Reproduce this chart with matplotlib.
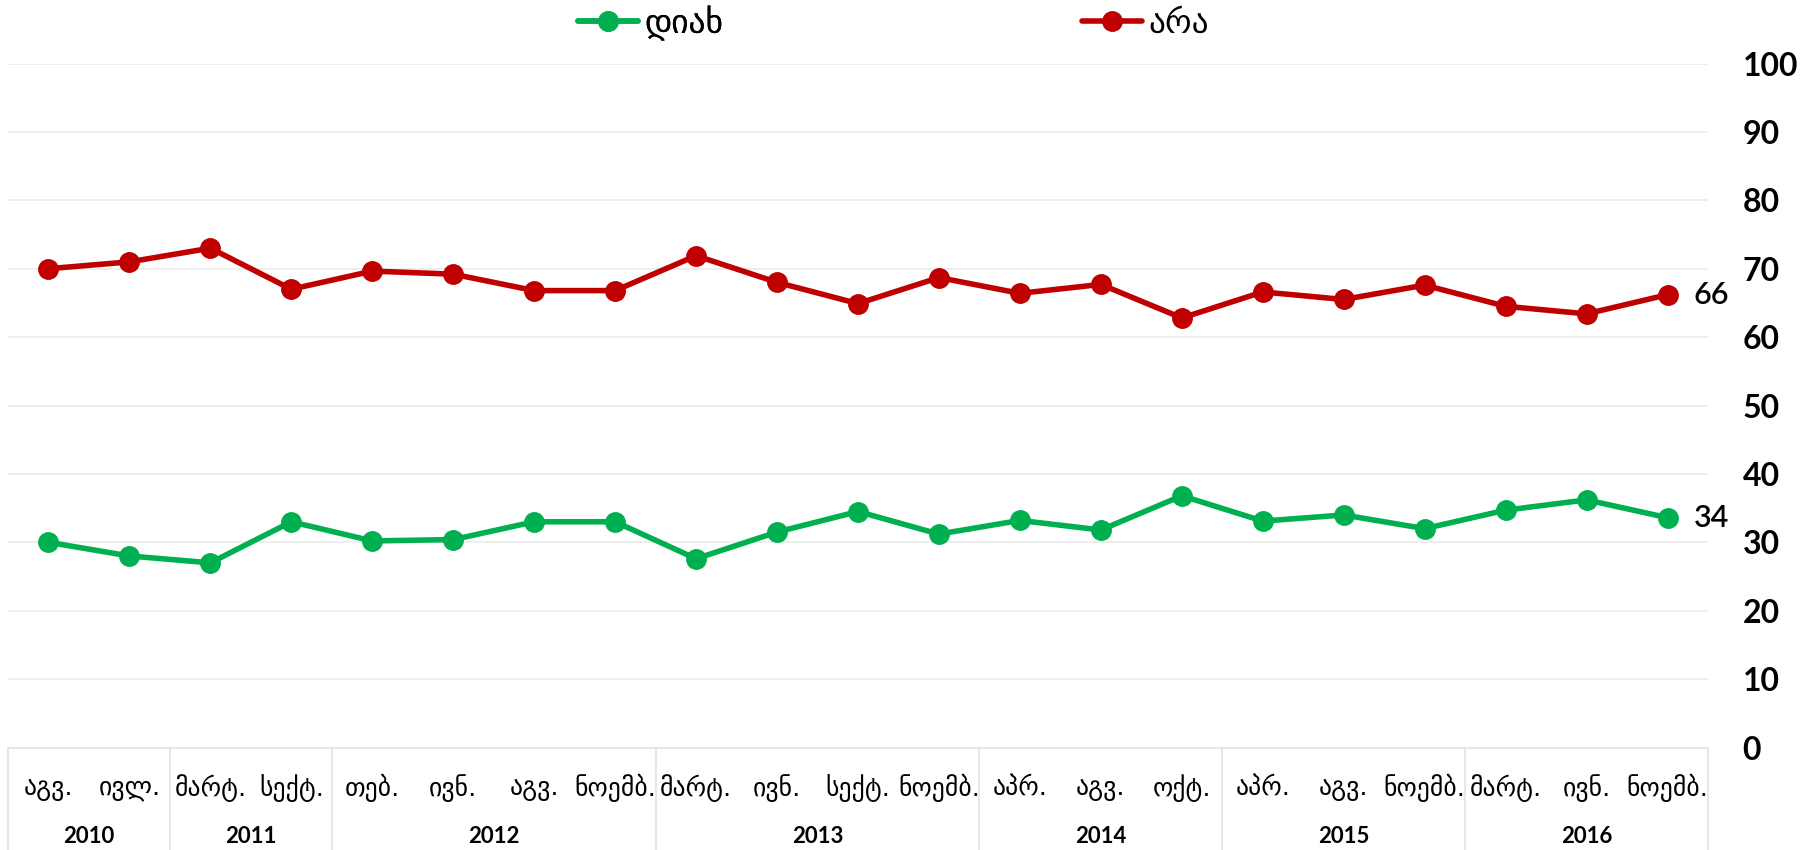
import matplotlib
matplotlib.use("Agg")
import matplotlib.pyplot as plt
from matplotlib.lines import Line2D
import matplotlib.transforms as mtransforms

months = ["აგვ.", "ივლ.", "მარტ.", "სექტ.", "თებ.", "ივნ.", "აგვ.", "ნოემბ.",
          "მარტ.", "ივნ.", "სექტ.", "ნოემბ.", "აპრ.", "აგვ.", "ოქტ.",
          "აპრ.", "აგვ.", "ნოემბ.", "მარტ.", "ივნ.", "ნოემბ."]
years = ["2010", "2011", "2012", "2013", "2014", "2015", "2016"]
year_counts = [2, 2, 4, 4, 3, 3, 3]

yes_vals = [30, 28, 27, 33, 30.2, 30.4, 33, 33, 27.6, 31.5, 34.5, 31.2,
            33.2, 31.8, 36.8, 33.1, 34, 32, 34.7, 36.2, 33.6]
no_vals = [70, 71, 73, 67, 69.65, 69.2, 66.8, 66.8, 71.9, 68, 64.9, 68.7,
           66.4, 67.7, 62.8, 66.6, 65.5, 67.6, 64.5, 63.4, 66.2]

green = "#00B050"
red = "#C00000"
geo_font = ["DejaVu Sans"]
num_font = ["Lato", "DejaVu Sans"]

fig = plt.figure(figsize=(18.17, 8.5), dpi=100)
ax = fig.add_axes([8 / 1817, 102.5 / 850, 1700 / 1817, 684 / 850])

x = list(range(len(months)))
l1, = ax.plot(x, yes_vals, color=green, lw=4, marker="o", ms=14, solid_capstyle="round")
l2, = ax.plot(x, no_vals, color=red, lw=4, marker="o", ms=14, solid_capstyle="round")

ax.set_xlim(-0.5, len(months) - 0.5)
ax.set_ylim(0, 100)
ax.set_yticks(range(0, 101, 10))
ax.yaxis.tick_right()
ax.tick_params(axis="y", length=0, pad=25)
for lab in ax.get_yticklabels():
    lab.set_fontfamily(num_font)
    lab.set_fontweight("bold")
    lab.set_fontsize(23)
ax.set_xticks([])
ax.grid(axis="y", color="#EBEBEB", lw=1.2)
ax.set_axisbelow(True)
for s in ax.spines.values():
    s.set_visible(False)

# end labels
ax.annotate(f"{no_vals[-1]:.0f}", (x[-1], no_vals[-1]), xytext=(19, 0), textcoords="offset points",
            va="center", ha="left", fontsize=22, family=num_font, fontweight="semibold")
ax.annotate(f"{yes_vals[-1]:.0f}", (x[-1], yes_vals[-1]), xytext=(19, 0), textcoords="offset points",
            va="center", ha="left", fontsize=22, family=num_font, fontweight="semibold")

# category table under the axis
trans = mtransforms.blended_transform_factory(ax.transData, ax.transAxes)
for i, m in enumerate(months):
    ax.text(i, -0.0592, m, transform=trans, ha="center", va="center", fontsize=18.5, family=geo_font)

start = 0
bounds = [-0.5]
for yr, n in zip(years, year_counts):
    ax.text(start + (n - 1) / 2, -0.1308, yr, transform=trans, ha="center", va="center",
            fontsize=16, fontweight="bold", family=num_font)
    start += n
    bounds.append(start - 0.5)
for b in bounds:
    ax.add_line(Line2D([b, b], [0, -0.16], transform=trans, color="#E3E3E3", lw=1.2, clip_on=False))
ax.add_line(Line2D([-0.5, len(months) - 0.5], [0, 0], transform=trans, color="#E3E3E3", lw=1.2, clip_on=False))

# legend
leg1 = fig.legend(handles=[l1], labels=["დიახ"], loc="center left", bbox_to_anchor=(578 / 1817, 1 - 23 / 850),
                  frameon=False, handlelength=1.8, handletextpad=0.2, borderpad=0,
                  borderaxespad=0, prop={"family": geo_font, "size": 24})
leg2 = fig.legend(handles=[l2], labels=["არა"], loc="center left", bbox_to_anchor=(1082 / 1817, 1 - 23 / 850),
                  frameon=False, handlelength=1.8, handletextpad=0.2, borderpad=0,
                  borderaxespad=0, prop={"family": geo_font, "size": 24})
fig.add_artist(leg1)

fig.savefig("out.png", dpi=100)
